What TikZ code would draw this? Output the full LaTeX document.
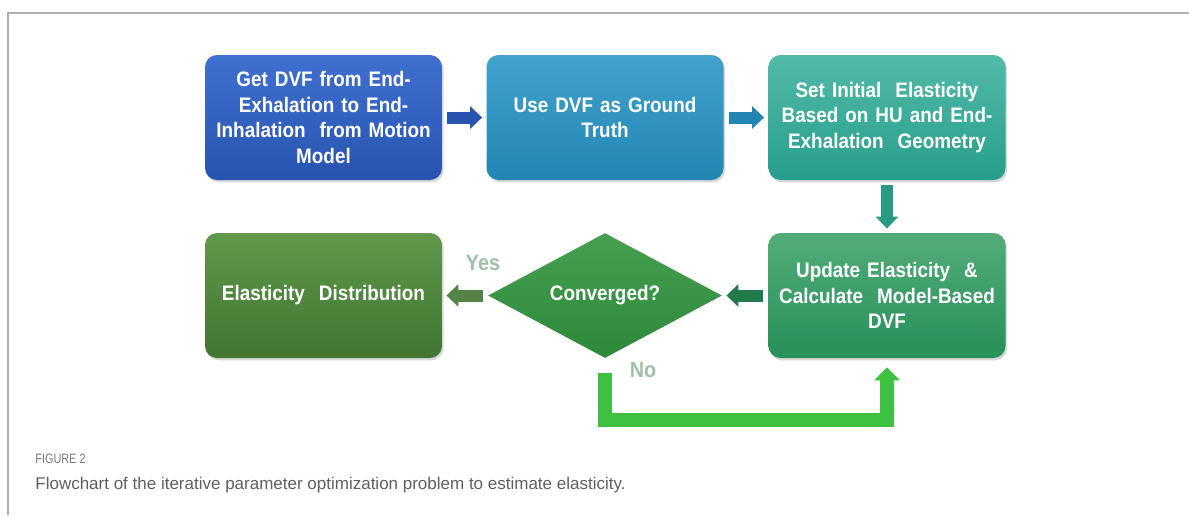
\documentclass[tikz,border=0pt]{standalone}
\usepackage{fontspec}
\setmainfont{Liberation Sans}
\newfontfamily\narrowfont[FakeStretch=0.9]{Liberation Sans}
\newfontfamily\labelfont[FakeStretch=0.8]{Liberation Sans}
\usetikzlibrary{arrows.meta,shapes.geometric,shadows}

\definecolor{frameGray}{RGB}{175,175,175}
\definecolor{blueTop}{RGB}{64,112,208}
\definecolor{blueBot}{RGB}{40,84,176}
\definecolor{cyanTop}{RGB}{66,162,204}
\definecolor{cyanBot}{RGB}{34,134,180}
\definecolor{tealTop}{RGB}{82,186,168}
\definecolor{tealBot}{RGB}{40,158,140}
\definecolor{mintTop}{RGB}{82,172,122}
\definecolor{mintBot}{RGB}{40,144,90}
\definecolor{oliveTop}{RGB}{96,152,76}
\definecolor{oliveBot}{RGB}{64,118,48}
\definecolor{convTop}{RGB}{70,160,80}
\definecolor{convBot}{RGB}{46,136,58}
\definecolor{loopGreen}{RGB}{62,192,64}
\definecolor{answerGray}{RGB}{160,192,165}
\definecolor{capGray}{RGB}{95,95,95}

\begin{document}
\begin{tikzpicture}[x=0.5pt,y=-0.5pt]
    \tikzset{font={\narrowfont\bfseries\fontsize{10.5}{12.85}\selectfont}}
    \tikzset{stepbox/.style={rounded corners=6pt, minimum width=118.5pt, minimum height=62.5pt,
        text width=114pt, inner sep=2pt, align=center, text=white,
        drop shadow={opacity=.3,shadow xshift=.8pt,shadow yshift=-1.2pt}}}
    \tikzset{blockarrow/.style={line width=6pt, -{Triangle[length=6pt,width=11pt]},
        shorten <=2.5pt, shorten >=2pt}}
    \useasboundingbox (0,0) rectangle (1189,515);
    \draw[frameGray, line width=1pt] (8,515) -- (8,13) -- (1189,13);
    % first row
    \node[stepbox, top color=blueTop, bottom color=blueBot] (getdvf) at (323.5,117.5)
        {Get DVF from End-\\Exhalation to End-\\Inhalation\ \ from Motion\\Model};
    \node[stepbox, top color=cyanTop, bottom color=cyanBot] (truth) at (605,117.5)
        {Use DVF as Ground\\Truth};
    \node[stepbox, top color=tealTop, bottom color=tealBot] (init) at (887,117.5)
        {Set Initial\ \ Elasticity\\Based on HU and End-\\Exhalation\ \ Geometry};
    % second row
    \node[stepbox, top color=mintTop, bottom color=mintBot] (upd) at (887,295.5)
        {Update Elasticity\ \ \&\\Calculate\ \ Model-Based\\DVF};
    \node[diamond, aspect=1.87, inner sep=0pt, minimum width=117pt, minimum height=62.5pt,
        top color=convTop, bottom color=convBot, text=white] (conv) at (605,295.5) {Converged?};
    \node[stepbox, top color=oliveTop, bottom color=oliveBot] (dist) at (323.5,295.5)
        {Elasticity\ \ Distribution};
    \draw[blockarrow, blueBot] (getdvf) -- (truth);
    \draw[blockarrow, cyanBot] (truth) -- (init);
    \draw[blockarrow, tealBot!80!mintBot] (init) -- (upd);
    \draw[blockarrow, mintBot!85!black] (upd) -- (conv);
    \draw[blockarrow, oliveBot!90!white] (conv) -- (dist);
    % answers
    \node[text=answerGray, font={\narrowfont\bfseries\fontsize{11}{13}\selectfont}] (yes) at (483,263) {Yes};
    \node[text=answerGray, font={\narrowfont\bfseries\fontsize{11}{13}\selectfont}] (no) at (643,370) {No};
    \coordinate (loopbot) at (0,420);
    \draw[loopGreen, line width=7pt, line join=miter, -{Triangle[length=6.5pt,width=12.5pt]}]
        ([yshift=-7.5pt]conv.south) -- (conv.south |- loopbot) -| ([yshift=-4.5pt]upd.south);
    % caption
    \node[anchor=base west, inner sep=0pt, text=capGray!85!white,
        font={\labelfont\fontsize{6.8}{8}\selectfont}] (figlabel) at (35,463) {FIGURE 2};
    \node[anchor=base west, inner sep=0pt, text=capGray,
        font={\fontsize{8.5}{10}\selectfont}] (caption) at (35,489)
        {Flowchart of the iterative parameter optimization problem to estimate elasticity.};
\end{tikzpicture}
\end{document}
